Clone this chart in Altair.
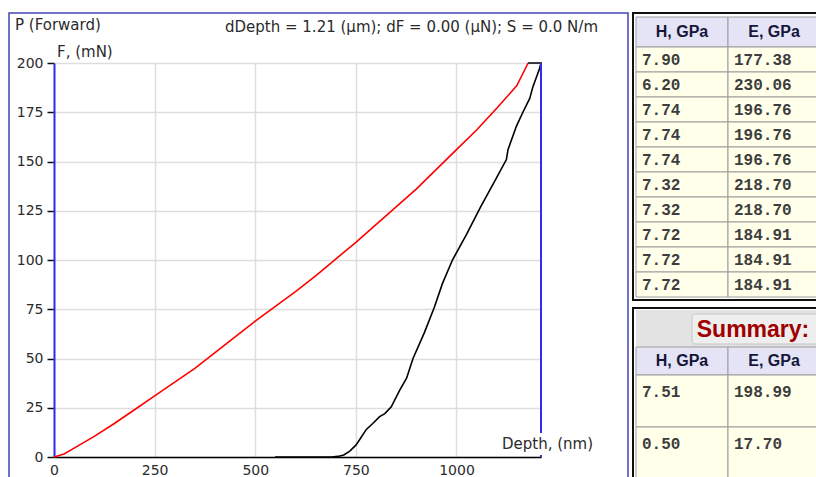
import altair as alt
import pandas as pd

# ---------------- data ----------------
red_depth = [0, 25, 50, 100, 150, 200, 250, 300, 350, 400, 450, 500, 550, 600, 650,
             700, 750, 800, 850, 900, 950, 1000, 1050, 1100, 1150, 1178]
red_force = [0, 1.5, 4.5, 10.5, 17, 24, 31, 38, 45, 53, 61, 69, 76.5, 84, 92,
             100.5, 109, 118, 127, 136, 146, 156, 166, 177, 188.5, 200]

black_depth = [1178, 1210, 1206, 1190, 1182, 1165, 1149, 1128, 1124, 1095, 1060, 1025,
               990, 965, 945, 920, 892, 876, 859, 838, 822, 809, 792, 776, 760, 750,
               735, 720, 705, 690, 549]
black_force = [200, 200, 197, 188, 182, 175, 168, 156, 151, 140, 127, 113,
               100, 88, 76, 63, 50, 40, 34, 25.5, 22, 20.5, 17, 14, 9, 6,
               3, 1, 0.3, 0, 0]

x_ticks = [0, 250, 500, 750, 1000]
y_ticks = [0, 25, 50, 75, 100, 125, 150, 175, 200]

h_values = ["7.90", "6.20", "7.74", "7.74", "7.74", "7.32", "7.32", "7.72", "7.72", "7.72"]
e_values = ["177.38", "230.06", "196.76", "196.76", "196.76", "218.70", "218.70",
            "184.91", "184.91", "184.91"]
summary_h = ["7.51", "0.50"]
summary_e = ["198.99", "17.70"]
col_titles = ["H, GPa", "E, GPa"]

title_left = "P (Forward)"
y_title = "F, (mN)"
x_title = "Depth, (nm)"
info_text = "dDepth = 1.21 (\u00b5m); dF = 0.00 (\u00b5N); S = 0.0 N/m"
summary_title = "Summary:"

# ---------------- styling ----------------
W, H = 487, 394
BLUE = "#2e2ef0"
FRAME = "#4444b4"
FONT = "DejaVu Sans"
TXT = "#2b2b2b"
GRID = "#dedede"

one = pd.DataFrame({"k": [0]})


def label(text, x, y, align="left", size=15, color=TXT, weight="normal", font=FONT):
    return alt.Chart(one).mark_text(
        align=align, baseline="middle", fontSize=size, font=font,
        fontWeight=weight, color=color
    ).encode(x=alt.value(x), y=alt.value(y), text=alt.value(text))


def box(x, x2, y, y2, fill="white", stroke="black", sw=1.0, fill_opacity=1.0, radius=0):
    return alt.Chart(one).mark_rect(
        fill=fill, fillOpacity=fill_opacity, stroke=stroke, strokeWidth=sw,
        cornerRadius=radius
    ).encode(x=alt.value(x), x2=alt.value(x2), y=alt.value(y), y2=alt.value(y2))


# ---------------- main plot ----------------
xs = alt.Scale(domain=[0, 1210], nice=False, zero=False)
ys = alt.Scale(domain=[0, 200], nice=False, zero=False)

red_df = pd.DataFrame({"depth": red_depth, "force": red_force, "i": range(len(red_depth))})
blk_df = pd.DataFrame({"depth": black_depth, "force": black_force, "i": range(len(black_depth))})

x_axis = alt.Axis(values=x_ticks, format="d", title=None, grid=True, gridColor=GRID, gridWidth=1.5,
                  domainColor="#000000", domainWidth=1.5, ticks=False, labelPadding=6,
                  labelFont=FONT, labelFontSize=14, labelColor=TXT, labelFlush=False)
y_axis = alt.Axis(values=y_ticks, format="d", title=None, grid=True, gridColor=GRID, gridWidth=1.5,
                  domainColor=BLUE, domainWidth=2, tickColor="#111111", tickSize=7,
                  tickWidth=1.5, labelPadding=4, labelFont=FONT, labelFontSize=14,
                  labelColor=TXT, labelFlush=False)

red = alt.Chart(red_df).mark_line(color="#ff0000", strokeWidth=1.6).encode(
    x=alt.X("depth:Q", scale=xs, axis=x_axis),
    y=alt.Y("force:Q", scale=ys, axis=y_axis),
    order="i:Q",
)
black = alt.Chart(blk_df).mark_line(color="#000000", strokeWidth=1.6).encode(
    x=alt.X("depth:Q", scale=xs),
    y=alt.Y("force:Q", scale=ys),
    order="i:Q",
)
right_rule = alt.Chart(pd.DataFrame({"d": [1210]})).mark_rule(
    color=BLUE, strokeWidth=2).encode(x=alt.X("d:Q", scale=xs))

main = alt.layer(
    box(-45, 574, -50, 430, fill="white", stroke=FRAME, sw=1.5, fill_opacity=0),
    red,
    black,
    right_rule,
    box(446, 546, 370, 392, fill="white", stroke="white", sw=0),
    label(title_left, -39, -38),
    label(y_title, 3, -11),
    label(info_text, 357.5, -36, align="center"),
    label(x_title, 448, 381),
)

# ---------------- tables ----------------
tx = alt.Scale(domain=[0, 2], range=[582, 766])
ty = alt.Scale(domain=[-1.2, 10], range=[-46, 234])

hdr_rows = []
dat_rows = []
for c, t in enumerate(col_titles):
    hdr_rows.append({"c0": c, "c1": c + 1, "cm": c + 0.5, "r0": -1.2, "r1": 0.0, "ym": -0.6, "text": t})
    hdr_rows.append({"c0": c, "c1": c + 1, "cm": c + 0.5, "r0": 12.0, "r1": 13.12, "ym": 12.56, "text": t})
for i, (hv, ev) in enumerate(zip(h_values, e_values)):
    for c, v in enumerate([hv, ev]):
        dat_rows.append({"c0": c, "c1": c + 1, "r0": i, "r1": i + 1, "ym": i + 0.5, "text": v})
sum_edges = [13.12, 15.2, 17.32]
for j, (hv, ev) in enumerate(zip(summary_h, summary_e)):
    for c, v in enumerate([hv, ev]):
        dat_rows.append({"c0": c, "c1": c + 1, "r0": sum_edges[j], "r1": sum_edges[j + 1],
                         "ym": sum_edges[j] + 0.68, "text": v})
hdr_df = pd.DataFrame(hdr_rows)
dat_df = pd.DataFrame(dat_rows)

enc_rect = dict(
    x=alt.X("c0:Q", scale=tx, axis=None), x2="c1:Q",
    y=alt.Y("r0:Q", scale=ty, axis=None), y2="r1:Q",
)
hdr_rect = alt.Chart(hdr_df).mark_rect(fill="#e4e4f6", stroke="#9c9c9c", strokeWidth=1).encode(**enc_rect)
dat_rect = alt.Chart(dat_df).mark_rect(fill="#ffffea", stroke="#9c9c9c", strokeWidth=1).encode(**enc_rect)
hdr_text = alt.Chart(hdr_df).mark_text(
    align="center", baseline="middle", font="Liberation Sans", fontSize=16,
    fontWeight="bold", color="#16163a"
).encode(x=alt.X("cm:Q", scale=tx, axis=None), y=alt.Y("ym:Q", scale=ty, axis=None), text="text:N")
dat_text = alt.Chart(dat_df).mark_text(
    align="left", baseline="middle", dx=6, font="Liberation Mono", fontSize=16,
    fontWeight="bold", color="#3d3d3d"
).encode(x=alt.X("c0:Q", scale=tx, axis=None), y=alt.Y("ym:Q", scale=ty, axis=None), text="text:N")

table = alt.layer(
    box(582, 770, 247, 284, fill="#e3e3e3", stroke="#e3e3e3", sw=0),
    box(638, 770, 251, 281, fill="#eeeeee", stroke="#c6c6c6", sw=1, radius=3),
    hdr_rect,
    dat_rect,
    hdr_text,
    dat_text,
    box(579, 772, -50, 237, fill="white", stroke="#111111", sw=2, fill_opacity=0),
    box(579, 772, 245, 420, fill="white", stroke="#111111", sw=2, fill_opacity=0),
    label(summary_title, 699, 267, align="center", size=23, color="#a00000",
          weight="bold", font="Liberation Sans"),
)

chart = alt.layer(main, table).resolve_scale(
    x="independent", y="independent"
).properties(
    width=W, height=H,
    autosize=alt.AutoSizeParams(type="none"),
    padding={"left": 54, "top": 63, "right": 275, "bottom": 20},
    background="white",
).configure_view(stroke=None)

chart.save("out.html", embed_options={"renderer": "svg", "actions": False})
